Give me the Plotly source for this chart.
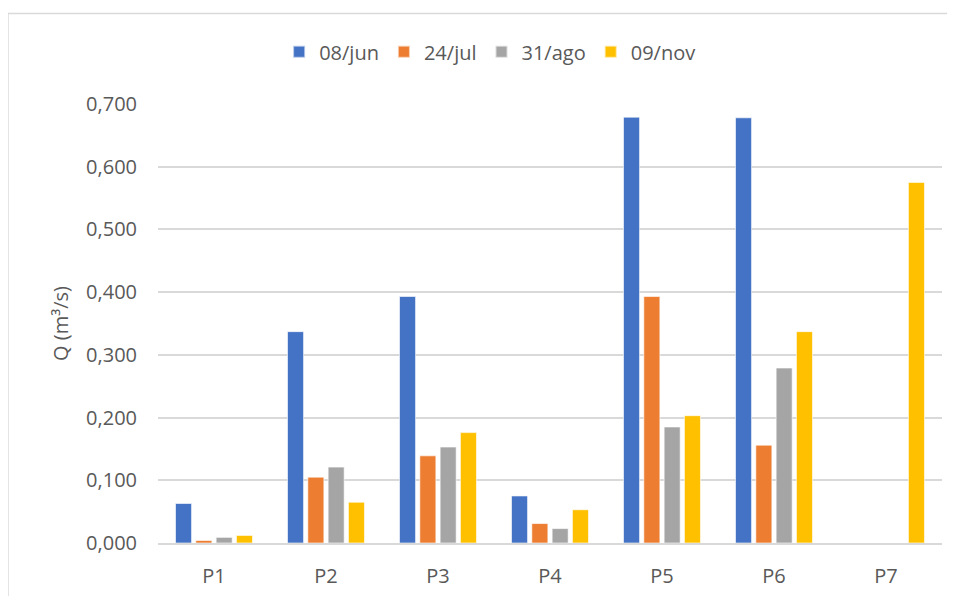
import plotly.graph_objects as go

categories = ["P1", "P2", "P3", "P4", "P5", "P6", "P7"]
series_names = ["08/jun", "24/jul", "31/ago", "09/nov"]
q_08jun = [0.063, 0.337, 0.393, 0.075, 0.679, 0.678, None]
q_24jul = [0.004, 0.105, 0.139, 0.031, 0.393, 0.156, None]
q_31ago = [0.009, 0.121, 0.153, 0.023, 0.185, 0.279, None]
q_09nov = [0.012, 0.065, 0.176, 0.053, 0.203, 0.337, 0.575]
y_ticks = [0.0, 0.1, 0.2, 0.3, 0.4, 0.5, 0.6, 0.7]
y_tick_labels = ["0,000", "0,100", "0,200", "0,300", "0,400", "0,500", "0,600", "0,700"]

colors = ["#4472C4", "#ED7D31", "#A5A5A5", "#FFC000"]
values = [q_08jun, q_24jul, q_31ago, q_09nov]

FONT = "Open Sans"
TXT = "#595959"
FS = 20

fig = go.Figure()
for name, vals, col in zip(series_names, values, colors):
    fig.add_trace(go.Bar(
        x=categories, y=vals, name=name,
        marker=dict(color=col, line=dict(color="rgba(255,255,255,0.6)", width=1)),
    ))

# page body has an 8px margin; screen coords = figure coords + 8
OFF = 8
W, H = 955, 596
plot_left, plot_right, plot_top, plot_bottom = 158, 941.7, 104, 543.5
L = plot_left - OFF
T = plot_top - OFF
R = W - (plot_right - OFF)
B = H - (plot_bottom - OFF)
pw = W - L - R
ph = H - T - B

def px(x):
    return (x - OFF - L) / pw

def py(y):
    return (H - B - (y - OFF)) / ph

fig.update_layout(
    width=W, height=H,
    margin=dict(l=L, r=R, t=T, b=B, pad=0, autoexpand=False),
    paper_bgcolor="white", plot_bgcolor="white",
    barmode="group", bargap=0.275, bargroupgap=0.21,
    font=dict(family=FONT, color=TXT, size=FS),
    legend=dict(
        orientation="h", x=px(490), y=py(51.7), xanchor="center", yanchor="middle",
        font=dict(family=FONT, size=FS, color=TXT),
        itemsizing="constant", itemwidth=30, traceorder="normal",
        bgcolor="rgba(0,0,0,0)",
    ),
    xaxis=dict(
        automargin=False,
        showgrid=False, showline=True, linecolor="#d9d9d9", linewidth=1.5,
        ticks="", tickfont=dict(family=FONT, size=FS, color=TXT),
        ticklabelstandoff=14, fixedrange=True,
    ),
    yaxis=dict(
        automargin=False,
        range=[0, 0.7], tickvals=y_ticks, ticktext=y_tick_labels,
        showgrid=True, gridcolor="#d9d9d9", gridwidth=1.5,
        zeroline=False, showline=False, ticks="",
        tickfont=dict(family=FONT, size=FS, color=TXT),
        ticklabelstandoff=20,
        title=dict(text="Q (m³/s)", font=dict(family=FONT, size=FS, color=TXT), standoff=12),
    ),
    shapes=[dict(
        type="rect", xref="paper", yref="paper",
        x0=px(8), x1=px(975), y0=py(620), y1=py(13.3),
        line=dict(color="#d9d9d9", width=1.5), fillcolor="rgba(0,0,0,0)", layer="below",
    )],
)

fig.write_html("out.html")
